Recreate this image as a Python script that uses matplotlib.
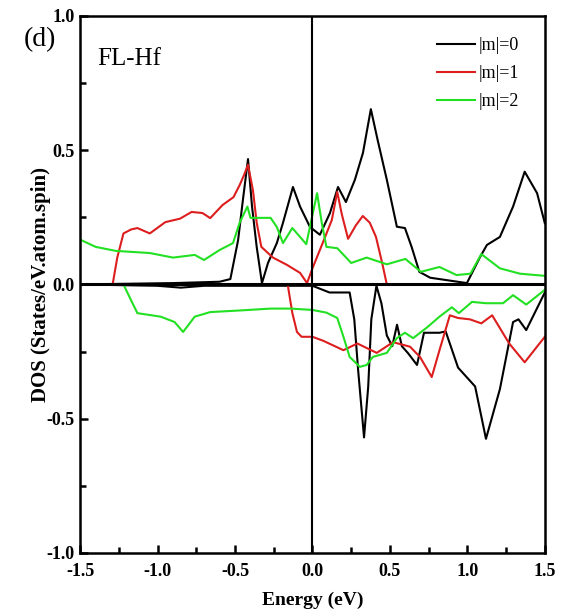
import matplotlib
matplotlib.use('Agg')
import matplotlib.pyplot as plt
from matplotlib.ticker import MultipleLocator

plt.rcParams['font.family'] = ['Liberation Serif', 'DejaVu Serif']
plt.rcParams['axes.unicode_minus'] = False

# spin up, |m|=0
e_m0_up = [-1.5, -0.9, -0.6, -0.53, -0.48, -0.45, -0.416, -0.39, -0.36, -0.326, -0.287,
           -0.23, -0.19, -0.126, -0.08, -0.016, 0.048, 0.113, 0.165, 0.216, 0.274, 0.326,
           0.377, 0.42, 0.48, 0.545, 0.597, 0.64, 0.69, 0.76, 0.855, 0.997, 1.08, 1.126,
           1.21, 1.295, 1.37, 1.45, 1.5]
d_m0_up = [0.0, 0.005, 0.01, 0.02, 0.165, 0.31, 0.467, 0.29, 0.14, 0.005, 0.08,
           0.154, 0.23, 0.363, 0.29, 0.214, 0.185, 0.266, 0.363, 0.307, 0.39, 0.49,
           0.653, 0.54, 0.39, 0.215, 0.21, 0.14, 0.047, 0.025, 0.017, 0.005, 0.1, 0.147,
           0.177, 0.29, 0.42, 0.34, 0.228]

# spin up, |m|=1
e_m1_up = [-1.5, -1.29, -1.26, -1.22, -1.17, -1.13, -1.05, -0.95, -0.855, -0.78, -0.71,
           -0.66, -0.58, -0.51, -0.47, -0.44, -0.416, -0.384, -0.36, -0.33, -0.255, -0.165,
           -0.08, -0.035, 0.0, 0.07, 0.125, 0.16, 0.19, 0.23, 0.28, 0.325, 0.37, 0.41,
           0.45, 0.48, 1.5]
d_m1_up = [0.0, 0.0, 0.1, 0.19, 0.205, 0.21, 0.19, 0.232, 0.245, 0.27, 0.266,
           0.247, 0.296, 0.325, 0.37, 0.41, 0.446, 0.35, 0.23, 0.14, 0.1, 0.073,
           0.043, 0.005, 0.06, 0.16, 0.24, 0.345, 0.26, 0.17, 0.22, 0.255, 0.23, 0.177,
           0.08, 0.0, 0.0]

# spin up, |m|=2
e_m2_up = [-1.5, -1.4, -1.27, -1.05, -0.9, -0.76, -0.7, -0.6, -0.513, -0.47, -0.42,
           -0.4, -0.27, -0.23, -0.19, -0.13, -0.08, -0.04, 0.03, 0.06, 0.09, 0.16, 0.25,
           0.35, 0.48, 0.6, 0.7, 0.82, 0.93, 1.02, 1.09, 1.21, 1.34, 1.5]
d_m2_up = [0.167, 0.14, 0.125, 0.117, 0.1, 0.11, 0.091, 0.128, 0.154, 0.23, 0.29,
           0.248, 0.248, 0.214, 0.154, 0.21, 0.177, 0.15, 0.34, 0.23, 0.14, 0.135, 0.08,
           0.1, 0.075, 0.095, 0.047, 0.065, 0.035, 0.04, 0.113, 0.06, 0.04, 0.032]

# spin down, |m|=0
e_m0_dn = [-1.5, -1.0, -0.85, -0.7, 0.0, 0.11, 0.24, 0.27, 0.295, 0.333, 0.36, 0.38,
           0.413, 0.445, 0.48, 0.515, 0.546, 0.577, 0.617, 0.675, 0.72, 0.82, 0.86,
           0.94, 1.05, 1.12, 1.21, 1.295, 1.33, 1.38, 1.5]
d_m0_dn = [0.0, -0.005, -0.012, -0.005, -0.005, -0.03, -0.03, -0.13, -0.32, -0.57, -0.38,
           -0.13, -0.005, -0.07, -0.19, -0.23, -0.15, -0.23, -0.256, -0.3, -0.18, -0.18,
           -0.175, -0.31, -0.38, -0.575, -0.39, -0.14, -0.13, -0.17, -0.03]

# spin down, |m|=1
e_m1_dn = [-1.5, -0.16, -0.13, -0.1, -0.07, 0.0, 0.07, 0.2, 0.29, 0.415, 0.52, 0.63,
           0.694, 0.77, 0.82, 0.887, 0.94, 1.016, 1.09, 1.16, 1.27, 1.37, 1.5]
d_m1_dn = [0.0, 0.0, -0.106, -0.177, -0.195, -0.195, -0.21, -0.245, -0.22, -0.255, -0.215,
           -0.232, -0.27, -0.345, -0.245, -0.115, -0.125, -0.13, -0.145, -0.115, -0.22,
           -0.29, -0.195]

# spin down, |m|=2
e_m2_dn = [-1.5, -1.22, -1.17, -1.13, -0.98, -0.89, -0.835, -0.76, -0.66, -0.47, -0.27,
           -0.14, 0.0, 0.09, 0.16, 0.2, 0.24, 0.306, 0.35, 0.39, 0.48, 0.545, 0.597,
           0.65, 0.74, 0.82, 0.9, 0.945, 1.03, 1.12, 1.23, 1.295, 1.38, 1.5]
d_m2_dn = [0.0, 0.0, -0.06, -0.107, -0.12, -0.14, -0.177, -0.12, -0.103, -0.097, -0.09,
           -0.09, -0.095, -0.105, -0.125, -0.195, -0.27, -0.307, -0.3, -0.27, -0.255,
           -0.2, -0.18, -0.2, -0.16, -0.12, -0.085, -0.107, -0.065, -0.07, -0.07, -0.04,
           -0.075, -0.02]

labels = ['|m|=0', '|m|=1', '|m|=2']
colors = ['black', '#dd1e1e', '#22e022']

fig = plt.figure(figsize=(5.64, 6.15), dpi=100)
ax = fig.add_axes([0.142, 0.101, 0.824, 0.873])

ups = [(e_m0_up, d_m0_up), (e_m1_up, d_m1_up), (e_m2_up, d_m2_up)]
dns = [(e_m0_dn, d_m0_dn), (e_m1_dn, d_m1_dn), (e_m2_dn, d_m2_dn)]
for (e, d), lab, c in zip(ups, labels, colors):
    ax.plot(e, d, color=c, lw=1.5, label=lab)
for (e, d), c in zip(dns, colors):
    ax.plot(e, d, color=c, lw=1.5)

ax.axhline(0, color='black', lw=2.2, zorder=5)
ax.axvline(0, color='black', lw=1.5, zorder=5)

ax.set_xlim(-1.5, 1.5)
ax.set_ylim(-1.0, 1.0)
ax.xaxis.set_major_locator(MultipleLocator(0.5))
ax.xaxis.set_minor_locator(MultipleLocator(0.25))
ax.yaxis.set_major_locator(MultipleLocator(0.5))
ax.yaxis.set_minor_locator(MultipleLocator(0.25))
ax.tick_params(which='both', direction='in', top=False, right=False, width=1.8)
ax.tick_params(which='major', length=6, labelsize=13)
ax.tick_params(axis='x', which='major', pad=7)
ax.tick_params(axis='y', which='major', pad=4)
ax.tick_params(which='minor', length=4)
for lbl in ax.get_xticklabels() + ax.get_yticklabels():
    lbl.set_fontweight('bold')
for s in ax.spines.values():
    s.set_linewidth(1.8)

ax.set_xlabel('Energy (eV)', fontsize=14, fontweight='bold', labelpad=9)
ax.set_ylabel('DOS (States/eV.atom.spin)', fontsize=15, fontweight='bold', labelpad=-3)

ax.text(-1.39, 0.84, 'FL-Hf', fontsize=18, va='center', ha='left')
fig.text(0.071, 0.935, '(d)', fontsize=20, va='center', ha='center')

ax.legend(loc='upper right', frameon=False, fontsize=13, handlelength=2.1,
          handletextpad=0.2, labelspacing=0.62, borderpad=0, borderaxespad=0,
          bbox_to_anchor=(519 / 564, 1 - 37 / 615), bbox_transform=fig.transFigure)

fig.savefig('out.png', dpi=100)
